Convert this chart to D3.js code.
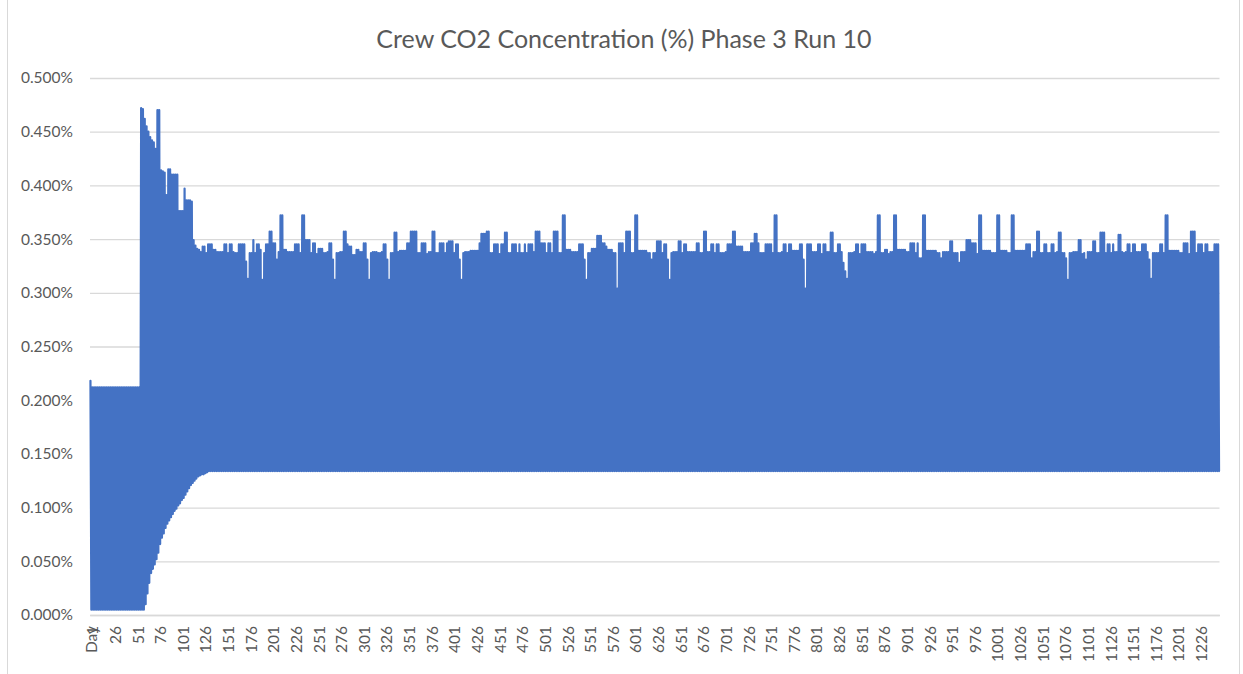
<!DOCTYPE html>
<html>
<head>
<meta charset="utf-8">
<script src="https://cdn.jsdelivr.net/npm/d3@7"></script>
<style>
  html, body { margin: 0; padding: 0; background: #fff; }
  svg { display: block; }
  text { font-family: Lato, "Open Sans", sans-serif; fill: #595959; }
</style>
</head>
<body>
<svg id="chart" width="1243" height="674"></svg>
<script>
// Crew CO2 concentration, values in thousandths of a percent (340 = 0.340%).
// The logged series alternates between a daily peak and a daily trough:
// crewPeaks[k] is the value at category 2k, crewTroughs[k] at category 2k+1.
const crewPeaks = [
  218,
  212,212,212,212,212,212,212,212,212,212,212,212,212,212,212,212,212,212,212,212,212,212,212,212,212,212,212,
  472,471,462,455,450,445,442,440,434,470,
  470,414,413,412,391,415,415,410,410,410,
  410,376,376,376,397,386,386,386,385,349,
  344,341,340,
  338,343,343,337,345,345,345,340,340,338,
  338,338,338,345,345,337,345,345,338,337,
  337,345,345,345,345,329,313,337,337,349,
  337,345,345,340,312,337,345,345,357,357,
  346,346,331,338,372,372,340,340,338,338,
  338,338,345,345,345,337,372,372,349,349,
  349,337,346,346,336,341,341,341,337,337,
  338,346,346,331,312,337,337,338,338,357,
  357,345,343,343,335,335,340,340,338,338,
  346,346,331,312,337,338,338,338,337,337,
  338,345,345,331,312,337,337,356,356,338,
  339,339,339,339,346,346,357,357,357,357,
  337,337,346,346,346,336,338,338,357,357,
  337,337,346,346,346,337,346,348,348,348,
  337,345,345,331,312,337,338,338,338,339,
  339,339,339,339,346,355,355,355,357,357,
  337,337,345,345,345,336,345,345,356,356,
  337,337,345,345,345,337,345,337,337,345,
  337,345,345,345,338,357,357,357,346,346,
  346,337,346,346,337,357,357,357,337,337,
  372,372,340,340,340,338,338,338,338,345,
  345,345,331,312,337,337,341,341,341,353,
  353,353,346,346,343,340,340,340,337,337,
  304,346,346,346,337,357,357,357,337,337,
  372,372,339,339,339,339,339,337,337,331,
  337,337,348,348,348,337,345,345,331,312,
  337,338,338,338,348,348,337,345,345,338,
  338,338,338,338,346,346,337,337,357,357,
  338,338,345,345,337,345,345,337,337,337,
  338,345,345,345,357,357,343,343,343,343,
  338,338,338,338,346,346,355,355,346,337,
  337,337,345,345,345,345,337,372,372,337,
  337,338,345,345,337,345,345,339,339,339,
  339,345,345,331,304,345,345,345,338,338,
  338,345,345,336,345,345,338,338,356,356,
  337,337,345,345,338,328,320,313,337,337,
  337,338,345,345,336,345,345,345,338,338,
  338,338,336,338,372,372,337,337,340,340,
  336,338,338,372,372,340,340,340,340,340,
  338,338,346,346,346,337,346,332,332,372,
  372,339,339,339,339,339,339,337,337,332,
  338,338,338,338,348,348,337,337,337,328,
  338,338,338,349,349,349,346,346,346,336,
  372,372,339,339,339,339,339,337,337,337,
  372,372,339,339,339,339,337,337,372,372,
  339,339,339,339,339,339,345,345,345,332,
  338,338,357,357,337,337,345,345,337,337,
  345,345,337,338,356,356,337,337,332,312,
  337,337,338,338,338,349,349,336,337,331,
  338,338,338,348,348,337,337,356,356,356,
  337,345,345,337,345,338,338,354,354,338,
  337,338,345,345,337,345,345,338,338,338,
  345,345,345,338,331,313,337,337,337,337,
  345,345,337,372,372,339,339,339,339,339,
  339,337,337,346,346,346,336,357,357,357,
  337,345,345,345,337,345,345,338,338,338,
  345,345,345
];

const crewTroughs = [
  // startup days, near zero
  5,5,5,5,5,5,5,5,5,5,5,5,5,5,5,5,5,5,5,5,5,5,5,5,5,5,5,5,5,
  // recovery towards the steady trough level
  5,10,20,30,39,43,47,52,58,66,
  72,76,81,85,88,91,94,97,99,102,
  104,107,109,112,115,118,121,123,125,127,
  129,130,131,131,132,133,
  // steady operation (559 troughs)
  134,134,134,134,134,134,134,134,134,134,134,134,134,134,134,134,134,134,134,134, // 1
  134,134,134,134,134,134,134,134,134,134,134,134,134,134,134,134,134,134,134,134, // 2
  134,134,134,134,134,134,134,134,134,134,134,134,134,134,134,134,134,134,134,134, // 3
  134,134,134,134,134,134,134,134,134,134,134,134,134,134,134,134,134,134,134,134, // 4
  134,134,134,134,134,134,134,134,134,134,134,134,134,134,134,134,134,134,134,134, // 5
  134,134,134,134,134,134,134,134,134,134,134,134,134,134,134,134,134,134,134,134, // 6
  134,134,134,134,134,134,134,134,134,134,134,134,134,134,134,134,134,134,134,134, // 7
  134,134,134,134,134,134,134,134,134,134,134,134,134,134,134,134,134,134,134,134, // 8
  134,134,134,134,134,134,134,134,134,134,134,134,134,134,134,134,134,134,134,134, // 9
  134,134,134,134,134,134,134,134,134,134,134,134,134,134,134,134,134,134,134,134, // 10
  134,134,134,134,134,134,134,134,134,134,134,134,134,134,134,134,134,134,134,134, // 11
  134,134,134,134,134,134,134,134,134,134,134,134,134,134,134,134,134,134,134,134, // 12
  134,134,134,134,134,134,134,134,134,134,134,134,134,134,134,134,134,134,134,134, // 13
  134,134,134,134,134,134,134,134,134,134,134,134,134,134,134,134,134,134,134,134, // 14
  134,134,134,134,134,134,134,134,134,134,134,134,134,134,134,134,134,134,134,134, // 15
  134,134,134,134,134,134,134,134,134,134,134,134,134,134,134,134,134,134,134,134, // 16
  134,134,134,134,134,134,134,134,134,134,134,134,134,134,134,134,134,134,134,134, // 17
  134,134,134,134,134,134,134,134,134,134,134,134,134,134,134,134,134,134,134,134, // 18
  134,134,134,134,134,134,134,134,134,134,134,134,134,134,134,134,134,134,134,134, // 19
  134,134,134,134,134,134,134,134,134,134,134,134,134,134,134,134,134,134,134,134, // 20
  134,134,134,134,134,134,134,134,134,134,134,134,134,134,134,134,134,134,134,134, // 21
  134,134,134,134,134,134,134,134,134,134,134,134,134,134,134,134,134,134,134,134, // 22
  134,134,134,134,134,134,134,134,134,134,134,134,134,134,134,134,134,134,134,134, // 23
  134,134,134,134,134,134,134,134,134,134,134,134,134,134,134,134,134,134,134,134, // 24
  134,134,134,134,134,134,134,134,134,134,134,134,134,134,134,134,134,134,134,134, // 25
  134,134,134,134,134,134,134,134,134,134,134,134,134,134,134,134,134,134,134,134, // 26
  134,134,134,134,134,134,134,134,134,134,134,134,134,134,134,134,134,134,134,134, // 27
  134,134,134,134,134,134,134,134,134,134,134,134,134,134,134,134,134,134,134       // 19
];

// Category labels: a header cell followed by the day numbers.
const dayCategories = ["Day", ...d3.range(1, 1248).map(String)];
const xTickLabels = ["Day", "1", "26", "51", "76", "101", "126", "151", "176", "201", "226",
  "251", "276", "301", "326", "351", "376", "401", "426", "451", "476", "501", "526", "551",
  "576", "601", "626", "651", "676", "701", "726", "751", "776", "801", "826", "851", "876",
  "901", "926", "951", "976", "1001", "1026", "1051", "1076", "1101", "1126", "1151", "1176",
  "1201", "1226"];
const yTicks = [0, 0.05, 0.1, 0.15, 0.2, 0.25, 0.3, 0.35, 0.4, 0.45, 0.5];
const chartTitle = "Crew CO2 Concentration (%) Phase 3 Run 10";

// Interleave peaks and troughs into the category-ordered series.
const series = crewPeaks.flatMap((p, k) => [p, crewTroughs[k]])
  .map((v, i) => ({ cat: dayCategories[i], value: v / 1000 }))
  .filter(d => d.cat !== undefined && Number.isFinite(d.value));

const svg = d3.select("#chart");
const plot = { left: 90, right: 1219.5, top: 78, bottom: 615 };

// Outer chart frame
svg.append("rect")
  .attr("x", 7.5).attr("y", -2).attr("width", 1232).attr("height", 680)
  .attr("fill", "#fff").attr("stroke", "#d9d9d9").attr("stroke-width", 1);

const x = d3.scalePoint()
  .domain(dayCategories)
  .range([plot.left, plot.right])
  .padding(0.5);

const y = d3.scaleLinear()
  .domain([0, 0.5])
  .range([plot.bottom, plot.top]);

// Horizontal gridlines and y labels
const yAxis = d3.axisLeft(y)
  .tickValues(yTicks)
  .tickFormat(d => d3.format(".3f")(d) + "%")
  .tickSize(-(plot.right - plot.left))
  .tickPadding(17);

const yG = svg.append("g")
  .attr("transform", `translate(${plot.left},0)`)
  .call(yAxis);
yG.select(".domain").remove();
yG.selectAll(".tick line").attr("stroke", "#d9d9d9").attr("stroke-width", 1.3);
yG.selectAll(".tick text")
  .attr("font-size", 15.5)
  .attr("fill", "#595959")
  .style("font-family", "Lato, sans-serif");

// Category axis with rotated labels
const xAxis = d3.axisBottom(x)
  .tickValues(xTickLabels)
  .tickSize(0)
  .tickPadding(0);

const xG = svg.append("g")
  .attr("transform", `translate(0,${plot.bottom})`)
  .call(xAxis);
xG.select(".domain").attr("stroke", "#d9d9d9").attr("stroke-width", 1.3);
xG.selectAll(".tick text")
  .attr("font-size", 15.5)
  .attr("fill", "#595959")
  .style("font-family", "Lato, sans-serif")
  .attr("text-anchor", "end")
  .attr("transform", "translate(6.5,11) rotate(-90)")
  .attr("x", 0).attr("y", 0).attr("dy", 0);

// The data line
const line = d3.line()
  .x(d => x(d.cat))
  .y(d => y(d.value));

svg.append("path")
  .datum(series)
  .attr("d", line)
  .attr("fill", "none")
  .attr("stroke", "#4472c4")
  .attr("stroke-width", 2.2)
  .attr("stroke-linejoin", "round")
  .attr("stroke-linecap", "round");

// Title
svg.append("text")
  .attr("x", 624).attr("y", 48)
  .attr("text-anchor", "middle")
  .attr("font-size", 25)
  .attr("fill", "#595959")
  .text(chartTitle);
</script>
</body>
</html>
